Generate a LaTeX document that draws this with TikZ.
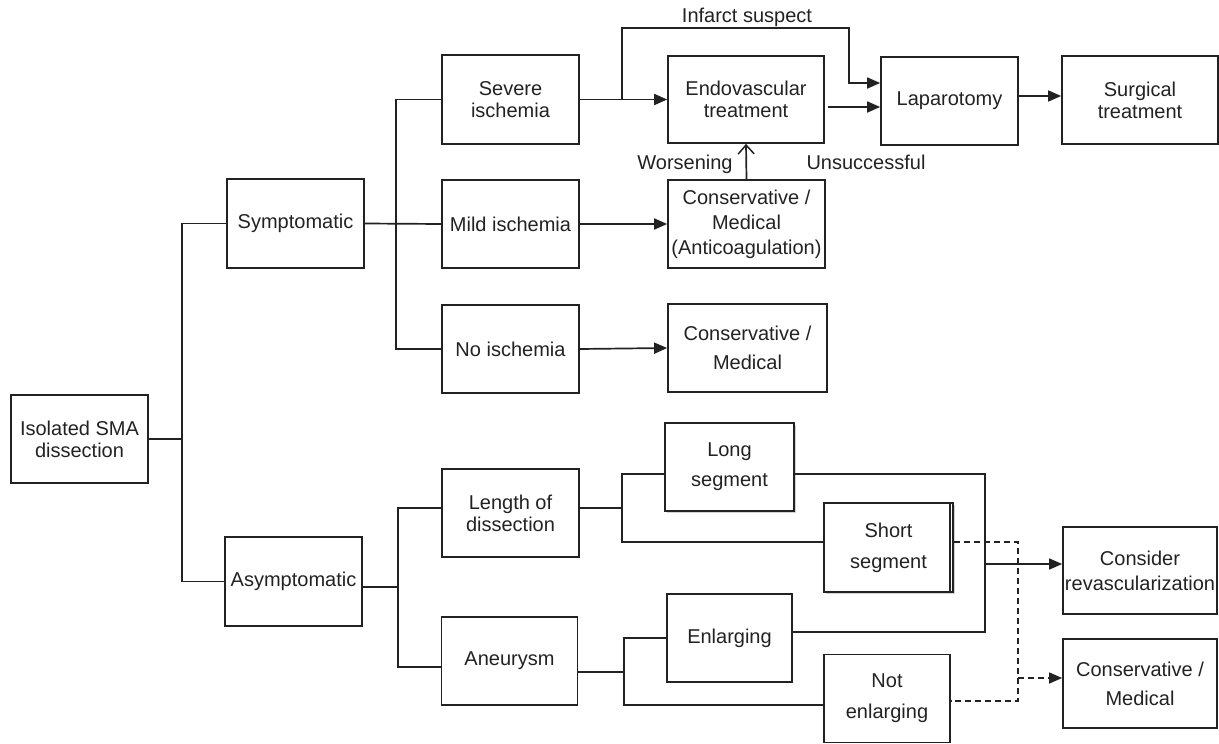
\documentclass[tikz,border=0pt]{standalone}
\usepackage{fontspec}
\setmainfont{Liberation Sans}
\usetikzlibrary{arrows.meta,shadows}
\definecolor{ink}{HTML}{222222}
\tikzset{
  box/.style={draw=ink, line width=1.7pt, minimum width=#1, inner sep=0pt, align=center, text=ink,
              font=\fontsize{20}{22}\selectfont},
  box/.default=137pt,
  conn/.style={draw=ink, line width=1.7pt},
  arr/.style={conn, -{Triangle[length=13pt,width=11pt]}},
  openarr/.style={conn, -{Straight Barb[length=9pt,width=16pt,line width=1.5pt]}},
  dsh/.style={conn, line width=1.5pt, dash pattern=on 6pt off 4pt},
  darr/.style={dsh, -{Triangle[length=13pt,width=11pt]}},
  lbl/.style={text=ink, font=\fontsize{20}{22}\selectfont, inner sep=0pt},
  heavy/.style={line width=2.5pt, drop shadow={opacity=0.35, shadow xshift=1.5pt, shadow yshift=-2pt}},
}
\begin{document}
\begin{tikzpicture}[x=1pt,y=-1pt]
\useasboundingbox (0,0) rectangle (1219,744);
% boxes (centres in pixel coordinates, y downward)
\node[box, minimum height=88pt] (iso) at (79.5,439) {Isolated SMA\\dissection};
\node[box, minimum height=89pt] (sym) at (295.5,223.5) {Symptomatic};
\node[box, minimum height=89pt] (asym) at (293.5,581.5) {Asymptomatic};
\node[box, minimum height=89pt] (sev) at (510.5,99.5) {Severe\\ischemia};
\node[box, minimum height=88pt] (mild) at (510.5,224) {Mild ischemia};
\node[box, minimum height=88pt] (noi) at (510.5,349) {No ischemia};
\node[box=156pt, minimum height=87pt] (endo) at (746,99.5) {Endovascular\\treatment};
\node[box=137pt, minimum height=88pt] (lap) at (949.5,101) {Laparotomy};
\node[box=156pt, minimum height=88pt] (surg) at (1140,100) {Surgical\\treatment};
\node[box=157pt, minimum height=88pt, font=\fontsize{20}{25}\selectfont] (cons1) at (746.5,224) {Conservative /\\Medical\\(Anticoagulation)};
\node[box=159pt, minimum height=88pt, font=\fontsize{20}{29}\selectfont] (cons2) at (747.5,348) {Conservative /\\Medical};
\node[box, minimum height=88pt] (len) at (510.5,513) {Length of\\dissection};
\node[box=136pt, minimum height=88pt] (aneu) at (509.5,661) {Aneurysm};
\node[box=129pt, minimum height=88pt, heavy, fill=white, font=\fontsize{20}{30}\selectfont] (long) at (729.5,467) {Long\\segment};
\node[box=129pt, minimum height=89pt, fill=white, drop shadow={opacity=0.35, shadow xshift=1.5pt, shadow yshift=-2pt}, font=\fontsize{20}{31}\selectfont] (short) at (888.5,547.5) {Short\\segment};
\draw[ink, line width=1.3pt] ([xshift=-4pt]short.north east) -- ([xshift=-4pt]short.south east);
\node[box=125pt, minimum height=88pt] (enl) at (729.5,638) {Enlarging};
\node[box=126pt, minimum height=88pt, font=\fontsize{20}{31}\selectfont] (notenl) at (887,698.5) {Not\\enlarging};
\node[box=154pt, minimum height=87pt, font=\fontsize{20}{25}\selectfont] (rev) at (1140,570.5) {Consider\\revascularization};
\node[box=154pt, minimum height=89pt, font=\fontsize{20}{29}\selectfont] (cons3) at (1140,683.5) {Conservative /\\Medical};
% labels
\node[lbl] (linf) at (747,17) {Infarct suspect};
\node[lbl] (lwor) at (685,164) {Worsening};
\node[lbl] (luns) at (866,162) {Unsuccessful};
% junction coordinates
\coordinate (j1) at (182,439);
\coordinate (j2) at (396,224);
\coordinate (ib) at (622,99.5);
\coordinate (ic) at (849,28);
\coordinate (j3) at (398,587);
\coordinate (j4a) at (622,474);
\coordinate (j4b) at (622,542);
\coordinate (j6a) at (624,638);
\coordinate (j6b) at (624,705);
\coordinate (j5a) at (985,474);
\coordinate (j5b) at (985,632);
\coordinate (j5c) at (985,564);
\coordinate (d1) at (1018,542);
\coordinate (d2) at (1018,701);
\coordinate (d3) at (1018,678);
% left tree
\draw[conn] (iso.east) -- (j1);
\draw[conn] (sym.west) -- (sym.west -| j1) -- (asym.west -| j1) -- (asym.west);
% symptomatic branch
\draw[conn] (sym.east) -- (mild.west);
\draw[conn] (sev.west) -- (sev.west -| j2) -- (noi.west -| j2) -- (noi.west);
\draw[arr] (sev.east) -- (endo.west);
\draw[arr] (ib) |- (ic) |- ([yshift=18pt]lap.west);
\draw[arr] ([xshift=3pt,yshift=-7.5pt]endo.east) -- ([yshift=-7.5pt]endo.east -| lap.west);
\draw[arr] ([yshift=5pt]lap.east) -- ([yshift=5pt]lap.east -| surg.west);
\draw[arr] (mild.east) -- (cons1.west);
\draw[openarr] (cons1.north) -- (endo.south);
\draw[arr] (noi.east) -- (cons2.west);
% asymptomatic branch
\draw[conn] ([yshift=-5.5pt]asym.east) -- (j3);
\draw[conn] ([yshift=5pt]len.west) -- ([yshift=5pt]len.west -| j3) -- ([yshift=-6pt]aneu.west -| j3) -- ([yshift=-6pt]aneu.west);
\draw[conn] ([yshift=5pt]len.east) -- ([yshift=5pt]len.east -| j4a);
\draw[conn] ([yshift=-7pt]long.west) -- (j4a) -- (j4b) -- (j4b -| short.west);
\draw[conn] ([yshift=-11pt]aneu.east) -- ([yshift=-11pt]aneu.east -| j6a);
\draw[conn] (enl.west) -- (j6a) -- (j6b) -- (j6b -| notenl.west);
\draw[conn] ([yshift=-7pt]long.east) -- (j5a) -- (j5b) -- (j5b -| enl.east);
\draw[arr] (j5c) -- (j5c -| rev.west);
\draw[dsh] (d1 -| short.east) -- (d1) -- (d2) -- (d2 -| notenl.east);
\draw[darr] (d3) -- (d3 -| cons3.west);
\end{tikzpicture}
\end{document}
